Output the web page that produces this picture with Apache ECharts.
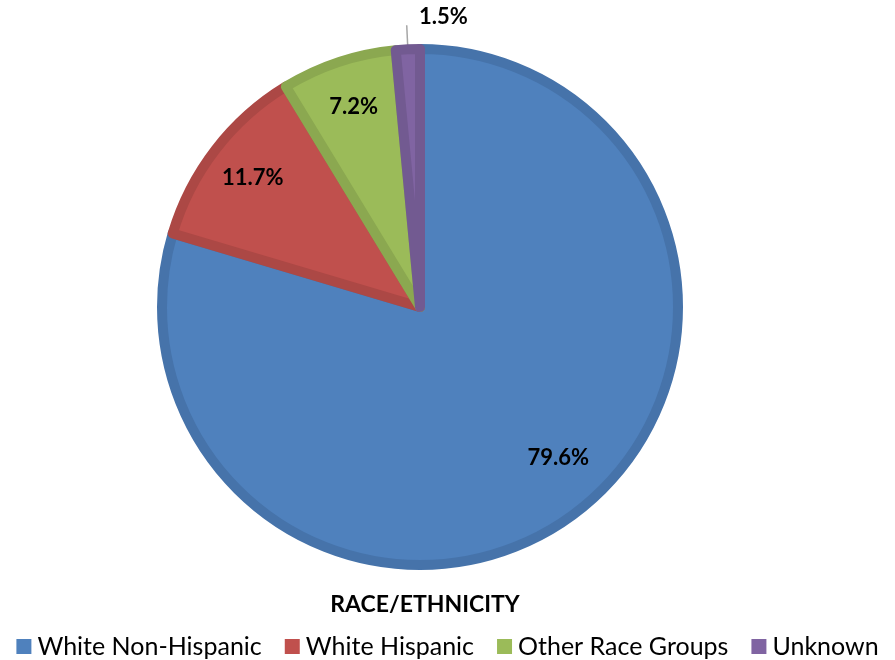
<!DOCTYPE html>
<html><head><meta charset="utf-8">
<script src="https://cdn.jsdelivr.net/npm/echarts@6/dist/echarts.min.js"></script>
<style>html,body{margin:0;padding:0;background:#fff}#c{width:895px;height:660px}</style>
</head><body><div id="c"></div>
<script>
const categories = ['White Non-Hispanic', 'White Hispanic', 'Other Race Groups', 'Unknown'];
const values = [79.6, 11.7, 7.2, 1.5];
const fillColors = ['#4F81BD', '#C0504D', '#9BBB59', '#8064A2'];
const borderColors = ['#4673AA', '#AC4845', '#8BA850', '#725A91'];
const titleText = 'RACE/ETHNICITY';

const chart = echarts.init(document.getElementById('c'), null, {renderer: 'canvas'});
const fontFam = 'Lato, "Noto Sans", sans-serif';
const mainData = categories.map((n, i) => ({
  name: n, value: values[i],
  itemStyle: {color: fillColors[i], borderColor: borderColors[i]},
  label: i === 3 ? {show: true} : {show: false},
  labelLine: i === 3 ? {show: true} : {show: false}
}));
const ringData = categories.map((n, i) => ({
  name: n, value: values[i],
  label: {show: i !== 3}
}));
chart.setOption({
  animation: false,
  title: {
    text: titleText, left: 420, top: 588, textAlign: 'center',
    textStyle: {fontFamily: fontFam, fontWeight: 'bold', fontSize: 23, color: '#000'}
  },
  legend: {
    data: categories.map((n, i) => ({name: n, itemStyle: {color: fillColors[i], borderWidth: 0}})),
    left: 'center', top: 629, itemWidth: 15, itemHeight: 15, itemGap: 23,
    icon: 'rect',
    textStyle: {fontFamily: fontFam, fontSize: 25, color: '#000', padding: [0, 0, 0, 1]}
  },
  series: [{
    type: 'pie', center: [420, 307], radius: [0, 258],
    startAngle: 90, clockwise: true,
    itemStyle: {borderWidth: 10},
    emphasis: {disabled: true},
    label: {position: 'outside', formatter: p => p.value.toFixed(1) + '%',
      fontFamily: fontFam, fontWeight: 'bold', fontSize: 22, color: '#000'},
    labelLine: {length: 24, length2: 0, lineStyle: {color: '#A6A6A6', width: 1.5}},
    labelLayout: p => p.dataIndex === 3 ? {dx: 66, dy: -8} : {},
    data: mainData
  }, {
    type: 'pie', center: [420, 307], radius: [198, 218],
    startAngle: 90, clockwise: true, silent: true,
    itemStyle: {color: 'rgba(0,0,0,0)', borderWidth: 0},
    emphasis: {disabled: true},
    label: {position: 'inside', formatter: p => p.value.toFixed(1) + '%',
      fontFamily: fontFam, fontWeight: 'bold', fontSize: 22, color: '#000'},
    labelLine: {show: false},
    labelLayout: p => p.dataIndex === 0 ? {dx: 12, dy: -18} : {},
    data: ringData
  }]
});
</script></body></html>
